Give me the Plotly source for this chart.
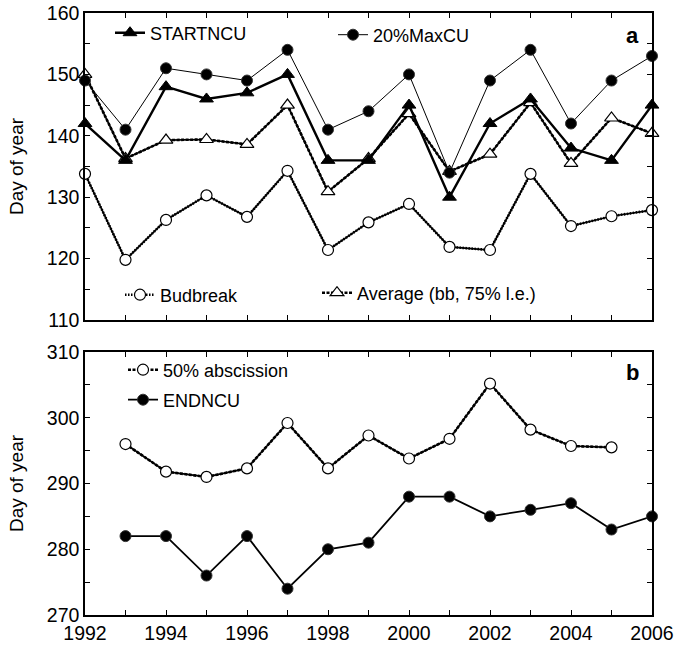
import plotly.graph_objects as go

years = list(range(1992, 2007))
startncu = [142, 136, 148, 146, 147, 150, 136, 136, 145, 130, 142, 146, 138, 136, 145]
maxcu20 = [149, 141, 151, 150, 149, 154, 141, 144, 150, 134, 149, 154, 142, 149, 153]
average_bb_le = [150, 136.3, 139.3, 139.4, 138.6, 145, 130.9, 136.3, 143.6, 134.2, 137, 145.4, 135.5, 142.9, 140.4]
budbreak = [133.8, 119.8, 126.3, 130.3, 126.8, 134.3, 121.4, 125.9, 128.9, 121.9, 121.4, 133.8, 125.3, 126.9, 127.9]

years_b = list(range(1993, 2006))
abscission50 = [296, 291.8, 291.0, 292.3, 299.2, 292.3, 297.3, 293.8, 296.8, 305.2, 298.2, 295.7, 295.5]
years_e = list(range(1993, 2007))
endncu = [282, 282, 276, 282, 274, 280, 281, 288, 288, 285, 286, 287, 283, 285]

x_tickvals = list(range(1992, 2007))
x_ticktext = [str(v) if v % 2 == 0 else "" for v in x_tickvals]
ya_tickvals = list(range(110, 161, 5))
ya_ticktext = [str(v) if v % 10 == 0 else "" for v in ya_tickvals]
yb_tickvals = list(range(270, 311, 5))
yb_ticktext = [str(v) if v % 10 == 0 else "" for v in yb_tickvals]

FONT = "Liberation Sans, Arial, sans-serif"
fig = go.Figure()


def add_textured(x, y, name, symbol, dash, xa, ya, legend):
    # solid core line with a dotted/dashed band on top, as in the original print
    fig.add_trace(go.Scatter(x=x, y=y, mode="lines", showlegend=False, hoverinfo="skip",
                             line=dict(color="black", width=1.7),
                             xaxis=xa, yaxis=ya, cliponaxis=False))
    fig.add_trace(go.Scatter(x=x, y=y, name=name, mode="lines+markers",
                             line=dict(color="black", width=2.6, dash=dash),
                             marker=dict(symbol=symbol, size=12 if "triangle" in symbol else 11,
                                         color="white", line=dict(color="black", width=1.2)),
                             xaxis=xa, yaxis=ya, legend=legend, cliponaxis=False))


add_textured(years, budbreak, "Budbreak", "circle", "1.5px,1.5px", "x", "y", "legend3")
add_textured(years, average_bb_le, "Average (bb, 75% l.e.)", "triangle-up", "3px,1.5px", "x", "y", "legend4")

fig.add_trace(go.Scatter(x=years, y=maxcu20, name="20%MaxCU", mode="lines+markers",
                         line=dict(color="black", width=1),
                         marker=dict(symbol="circle", size=11, color="black", line=dict(color="#333", width=1)),
                         xaxis="x", yaxis="y", legend="legend2", cliponaxis=False))
fig.add_trace(go.Scatter(x=years, y=startncu, name="STARTNCU", mode="lines+markers",
                         line=dict(color="black", width=2.4),
                         marker=dict(symbol="triangle-up", size=12, color="black", line=dict(color="black", width=1)),
                         xaxis="x", yaxis="y", legend="legend", cliponaxis=False))

add_textured(years_b, abscission50, "50% abscission", "circle", "3px,1.5px", "x2", "y2", "legend5")
fig.add_trace(go.Scatter(x=years_e, y=endncu, name="ENDNCU", mode="lines+markers",
                         line=dict(color="black", width=1.8),
                         marker=dict(symbol="circle", size=11, color="black", line=dict(color="#333", width=1)),
                         xaxis="x2", yaxis="y2", legend="legend6", cliponaxis=False))

axis_common = dict(showline=True, linecolor="black", linewidth=1.5, mirror="ticks",
                   ticks="inside", ticklen=5, tickwidth=1, tickcolor="black",
                   showgrid=False, zeroline=False, automargin=False,
                   tickfont=dict(family=FONT, size=19.5, color="black"))

W, H = 677, 649
ML, MR, MT, MB = 85, 25, 13, 34
PW = W - ML - MR
PH = H - MT - MB


def px(xs):
    return (xs - ML) / PW


def py(ys):
    return (H - MB - ys) / PH


bot_a = py(320)
top_b = py(352)

leg = dict(xanchor="left", yanchor="middle", bgcolor="rgba(0,0,0,0)",
           font=dict(family=FONT, size=18))

fig.update_layout(
    width=W, height=H,
    margin=dict(l=ML, r=MR, t=MT, b=MB),
    showlegend=True,
    paper_bgcolor="white", plot_bgcolor="white",
    font=dict(family=FONT, size=18, color="black"),
    xaxis=dict(domain=[0, 1], anchor="y", range=[1992, 2006], tickvals=x_tickvals,
               ticktext=x_ticktext, showticklabels=False, **axis_common),
    yaxis=dict(domain=[bot_a, 1], anchor="x", range=[110, 160], tickvals=ya_tickvals,
               ticktext=ya_ticktext,
               title=dict(text="Day of year", font=dict(family=FONT, size=19), standoff=18),
               **axis_common),
    xaxis2=dict(domain=[0, 1], anchor="y2", range=[1992, 2006], tickvals=x_tickvals,
                ticktext=x_ticktext, **axis_common),
    yaxis2=dict(domain=[0, top_b], anchor="x2", range=[270, 310], tickvals=yb_tickvals,
                ticktext=yb_ticktext,
                title=dict(text="Day of year", font=dict(family=FONT, size=19), standoff=18),
                **axis_common),
    legend=dict(x=px(110), y=py(33), **leg),
    legend2=dict(x=px(333), y=py(35), **leg),
    legend3=dict(x=px(120), y=py(295), **leg),
    legend4=dict(x=px(317), y=py(293), **leg),
    legend5=dict(x=px(123), y=py(370), **leg),
    legend6=dict(x=px(123), y=py(400), **leg),
    annotations=[
        dict(text="<b>a</b>", x=px(632), y=py(35), xref="paper", yref="paper",
             showarrow=False, font=dict(family=FONT, size=22, color="black"), xanchor="center", yanchor="middle"),
        dict(text="<b>b</b>", x=px(632), y=py(373), xref="paper", yref="paper",
             showarrow=False, font=dict(family=FONT, size=22, color="black"), xanchor="center", yanchor="middle"),
    ],
)

fig.write_html("out.html", config={"displayModeBar": False},
               post_script="document.body.style.margin='0';document.body.style.overflow='hidden';")
